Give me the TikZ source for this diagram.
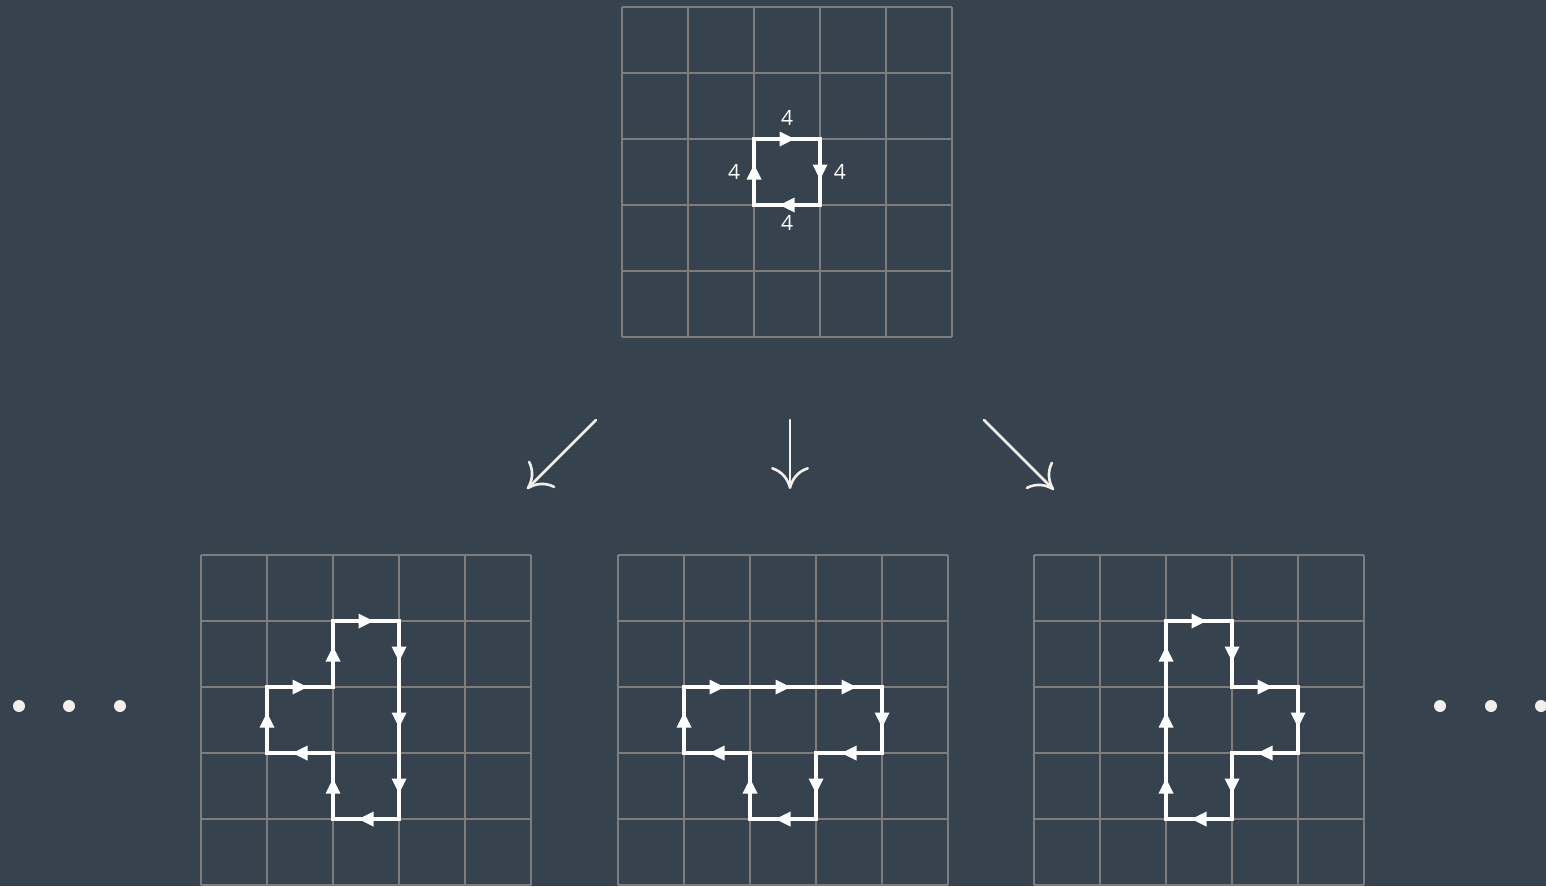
\documentclass[tikz,border=0pt]{standalone}
\usepackage{fontspec}
\newfontfamily\lbl{Open Sans}
\usetikzlibrary{arrows.meta,decorations.markings}
\definecolor{bg}{RGB}{55,66,79}
\definecolor{gridc}{RGB}{125,125,125}
\definecolor{offw}{RGB}{243,240,235}
\tikzset{
  gridline/.style={draw=gridc, line width=2.4pt},
  loop/.style={draw=white, line width=4.8pt, line join=miter, line cap=rect},
  marks/.style={postaction={decorate, decoration={markings,
     mark=between positions 33pt and #1 step 66pt with {\fill[white] (-7.5pt,-7.5pt) -- (7.5pt,0pt) -- (-7.5pt,7.5pt) -- cycle;}}}},
  branch/.style={draw=offw, line width=2.6pt, line cap=round, -{Computer Modern Rightarrow[length=22pt,width=38pt,line width=2.6pt]}},
  dot/.style={circle, fill=offw, inner sep=0pt, minimum size=12pt},
  num/.style={text=white, font=\lbl\fontsize{21}{24}\selectfont, inner sep=0pt}
}
\newcommand{\cellgrid}{%
  \foreach \k in {0,...,5} {
    \draw[gridline] (\k,0) -- (\k,5);
    \draw[gridline] (0,\k) -- (5,\k);
  }%
}
\begin{document}
\begin{tikzpicture}[x=1pt,y=-1pt]
\fill[bg] (0,0) rectangle (1546,886);
\useasboundingbox (0,0) rectangle (1546,886);
% top grid
\begin{scope}[shift={(622,7)}, x=66pt, y=-66pt]
  \cellgrid
  \draw[loop, marks=240pt] (2,2) -- (3,2) -- (3,3) -- (2,3) -- cycle;
  \node[num] (ntop) at (2.5,1.68) {4};
  \node[num] (nleft) at (1.7,2.5) {4};
  \node[num] (nright) at (3.3,2.5) {4};
  \node[num] (nbot) at (2.5,3.27) {4};
\end{scope}
% bottom left grid
\begin{scope}[shift={(201,555)}, x=66pt, y=-66pt]
  \cellgrid
  \draw[loop, marks=640pt] (2,1) -- (3,1) -- (3,4) -- (2,4) -- (2,3) -- (1,3) -- (1,2) -- (2,2) -- cycle;
\end{scope}
% bottom middle grid
\begin{scope}[shift={(618,555)}, x=66pt, y=-66pt]
  \cellgrid
  \draw[loop, marks=640pt] (1,2) -- (4,2) -- (4,3) -- (3,3) -- (3,4) -- (2,4) -- (2,3) -- (1,3) -- cycle;
\end{scope}
% bottom right grid
\begin{scope}[shift={(1034,555)}, x=66pt, y=-66pt]
  \cellgrid
  \draw[loop, marks=640pt] (2,1) -- (3,1) -- (3,2) -- (4,2) -- (4,3) -- (3,3) -- (3,4) -- (2,4) -- cycle;
\end{scope}
% branch arrows
\coordinate (la) at (596,420); \coordinate (lb) at (527,489);
\coordinate (ma) at (790,420); \coordinate (mb) at (790,489);
\coordinate (ra) at (984,420); \coordinate (rb) at (1054,490);
\draw[branch] (la) -- (lb);
\draw[branch] (ma) -- (mb);
\draw[branch] (ra) -- (rb);
% ellipses
\node[dot] (d1) at (19,706) {};
\node[dot] (d2) at (69,706) {};
\node[dot] (d3) at (120,706) {};
\node[dot] (d4) at (1440,706) {};
\node[dot] (d5) at (1491,706) {};
\node[dot] (d6) at (1541,706) {};
\end{tikzpicture}
\end{document}
